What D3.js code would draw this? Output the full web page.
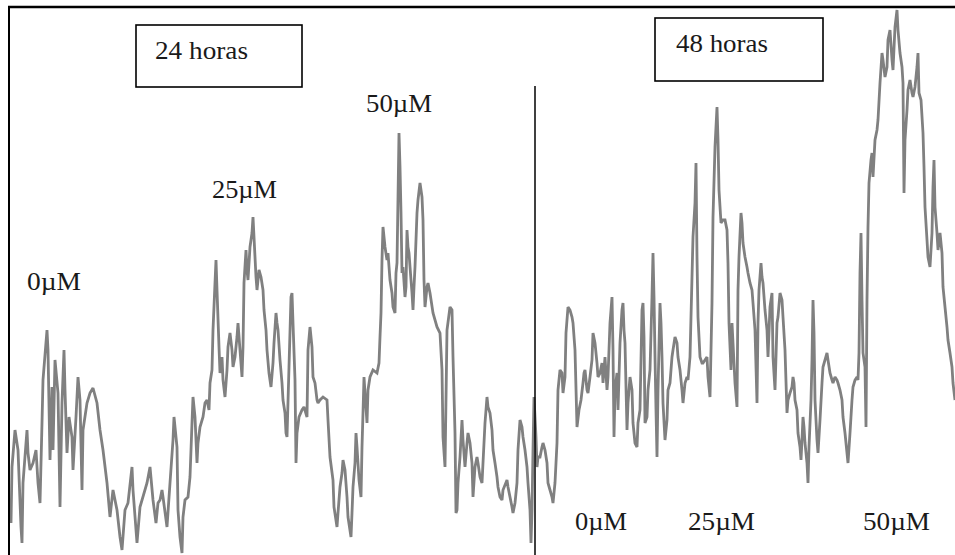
<!DOCTYPE html>
<html>
<head>
<meta charset="utf-8">
<script src="https://cdn.jsdelivr.net/npm/d3@7"></script>
<style>
  html, body { margin: 0; padding: 0; background: #fff; }
  svg { display: block; }
  text { font-family: "Liberation Serif", "Times New Roman", serif; fill: #1a1a1a; }
</style>
</head>
<body>
<svg id="chart" width="955" height="555"></svg>
<script>
// ---- Data: densitometry scan [position, intensity] ----
const scan24h = [
[1,32],[2,88],[5,125],[8,105],[11,28],[12,12],[13,72],[17,125],[18,102],[20,85],
[23,92],[26,105],[28,72],[30,52],[32,132],[33,175],[37,225],[38,205],[40,95],[42,168],
[43,105],[45,195],[48,162],[50,48],[52,152],[54,205],[55,165],[57,102],[59,138],[62,118],
[63,85],[66,138],[68,178],[70,155],[72,65],[73,125],[77,152],[80,162],[83,167],[87,152],
[90,125],[93,105],[97,72],[100,38],[103,65],[107,45],[110,18],[112,5],[115,45],[118,52],
[122,88],[123,65],[127,12],[130,48],[137,72],[140,88],[143,55],[146,32],[148,52],
[150,55],[152,65],[153,58],[157,28],[160,72],[163,115],[164,138],[167,108],[168,45],[170,18],
[172,2],[173,38],[175,55],[178,58],[180,78],[182,132],[183,158],[185,138],[187,92],[188,112],
[190,128],[193,138],[195,152],[197,155],[199,145],[200,172],[202,185],[203,225],[205,272],[206,295],
[207,265],[209,208],[210,182],[212,198],[213,175],[215,158],[217,185],[218,208],[220,222],[222,205],
[223,188],[225,198],[227,218],[228,232],[230,205],[232,178],[233,208],[234,272],[236,305],[237,285],
[238,275],[240,308],[242,322],[243,338],[244,318],[246,278],[247,265],[249,285],[251,278],[253,265],
[254,245],[256,225],[257,205],[259,182],[261,168],[263,192],[264,212],[266,242],[267,232],[268,225],
[270,195],[272,172],[273,155],[275,142],[276,122],[277,118],[279,188],[281,258],[282,262],[283,232],
[285,175],[286,92],[287,122],[289,138],[292,145],[294,148],[297,138],[298,205],[300,228],[302,208],
[303,178],[305,172],[307,155],[308,152],
[310,155],[313,158],[317,155],[318,135],[320,98],[323,75],[324,48],[327,28],[328,42],[330,68],
[332,82],[333,95],[335,85],[337,58],[338,38],[341,18],[342,42],[343,68],[345,92],[346,122],
[347,108],[349,75],[351,58],[352,108],[353,142],[354,178],[355,162],[357,132],[358,165],[360,178],
[363,185],[367,182],[369,192],[370,218],[371,242],[372,295],[373,328],[375,308],[377,295],[378,302],
[380,275],[382,262],[383,248],[385,242],[386,282],[387,292],[389,422],[390,388],[391,342],[392,282],
[393,288],[395,258],[396,268],[397,325],[398,308],[399,302],[401,275],[402,262],[403,245],[404,268],
[405,288],[407,342],[408,355],[410,372],[412,358],[413,335],[414,275],[415,248],[417,268],[418,272],
[420,262],[423,242],[427,228],[430,222],[432,185],[433,118],[435,88],[437,225],[440,248],[442,245],
[443,198],[445,122],[446,42],[447,45],[448,72],[450,98],[452,135],[453,115],[455,88],[457,112],
[458,122],[460,112],[462,92],[463,58],[465,88],[467,98],[468,92],[470,78],[472,72],[473,92],
[475,132],[477,158],[478,148],[480,142],[482,125],[483,105],[485,92],[487,78],[488,68],[490,58],
[492,55],[493,65],[497,75],[498,68],[500,58],[502,48],[503,42],[505,52],[507,72],[508,105],
[510,135],[512,128],[513,118],[515,105],[517,88],[518,72],[520,45],[521,12],[522,45],[523,105],[524,158]
];
const scan48h = [
[526,118],[527,88],[528,98],[530,98],[532,108],[533,112],[535,105],[537,92],[538,72],[540,65],
[542,58],[543,52],[545,72],[547,112],[548,165],[550,185],[552,182],[553,162],[555,178],[556,222],
[558,248],[560,245],[562,238],[563,232],[565,205],[567,128],[569,145],[571,155],[573,172],[574,182],
[575,185],[577,165],[578,162],[580,178],[582,195],[583,222],[585,212],[587,192],[588,178],
[590,182],[592,192],[593,172],[595,198],[597,165],[598,178],[600,232],[602,258],[603,205],[604,118],
[605,165],[607,182],[608,145],[610,212],[612,245],[613,252],[614,225],[615,212],[617,125],[618,152],
[620,178],[622,165],[623,132],[625,112],[627,108],[628,132],[630,145],[632,245],[633,252],[634,218],
[635,132],[637,138],[638,165],[640,185],[642,258],[643,302],[644,258],[645,198],[646,145],[647,98],
[648,165],[650,252],[651,232],[652,198],[653,152],[655,115],[657,135],[658,165],[660,172],[662,198],
[663,205],[665,218],[667,212],[668,198],[670,185],[672,165],[673,152],[675,172],[677,178],[678,175],
[680,198],[682,278],[683,318],[685,352],[686,392],[687,298],[688,238],[690,198],[692,192],[693,192],
[695,195],[697,198],[698,178],[700,158],[702,252],[703,338],[705,408],[707,448],[708,415],[709,365],
[711,332],[713,335],[715,335],[717,325],[718,292],[719,232],[721,185],[722,232],[723,212],[725,172],
[727,148],[728,265],[729,298],[731,342],[732,332],[733,312],[735,298],[737,288],[738,282],[740,272],
[742,265],[743,252],[745,225],[747,152],[748,232],[749,265],[751,292],[752,278],[753,272],[755,245],
[757,225],[758,198],[760,248],[762,262],[763,198],[765,165],[767,232],[768,238],
[770,262],[772,255],[773,238],[775,205],[777,142],[778,155],[780,162],[782,168],[783,178],[784,172],
[785,155],[787,145],[788,122],[790,108],[791,95],[792,115],[793,138],[794,128],[795,112],[797,92],
[798,72],[799,108],[801,155],[802,195],[803,255],[804,222],[805,155],[807,115],[808,102],[810,135],
[812,172],[813,188],[815,195],[817,202],[818,195],[820,182],[822,175],[823,172],[825,178],[827,175],
[828,172],[830,165],[832,155],[833,138],[835,122],[837,102],[838,92],[840,122],[842,155],[843,168],
[845,175],[847,178],[848,175],[849,202],[850,282],[851,322],[852,255],[853,202],[855,188],[856,128],
[857,255],[858,328],[859,372],[861,395],[862,402],[863,378],[865,415],[867,425],[868,435],[870,472],
[872,502],[873,495],[875,478],[877,488],[878,515],[880,525],[882,495],[883,485],[885,528],[887,545],
[888,525],[890,502],[892,488],[893,472],[894,362],[895,415],[897,445],[898,465],[900,475],[902,462],
[903,458],[905,468],[907,488],[908,502],[909,462],[911,455],[913,422],[914,388],[915,348],[917,315],
[918,298],[920,288],[922,322],[923,368],[924,395],[925,348],[927,322],[928,305],[930,322],[932,302],
[933,268],[935,248],[937,228],[938,215],[940,202],[942,188],[943,172],[945,155]
];
const panelTitles = ["24 horas", "48 horas"];
const doseLabels = ["0\u00B5M", "25\u00B5M", "50\u00B5M"];
const panelBoundary = 525; // scan position separating the two panels

// ---- Layout ----
const W = 955, H = 555;
const svg = d3.select("#chart");

const x = d3.scaleLinear().domain([0, 945]).range([10, 955]);
const y = d3.scaleLinear().domain([0, 550]).range([555, 5]);

// trace
const line = d3.line().x(d => x(d[0])).y(d => y(d[1])).curve(d3.curveLinear);
svg.append("path")
  .datum(scan24h.concat(scan48h))
  .attr("d", line)
  .attr("fill", "none")
  .attr("stroke", "#808080")
  .attr("stroke-width", 2.8)
  .attr("stroke-linejoin", "miter")
  .attr("stroke-miterlimit", 2);

// frame (left and top edges)
svg.append("line").attr("x1", 9).attr("x2", 9).attr("y1", 6).attr("y2", H)
  .attr("stroke", "#000").attr("stroke-width", 2);
svg.append("line").attr("x1", 8).attr("x2", W).attr("y1", 7).attr("y2", 7)
  .attr("stroke", "#000").attr("stroke-width", 2.5);

// divider between panels
svg.append("line")
  .attr("x1", x(panelBoundary)).attr("x2", x(panelBoundary))
  .attr("y1", 86).attr("y2", H)
  .attr("stroke", "#000").attr("stroke-width", 1.5);

// title boxes
const boxes = [
  {x0: 136, y0: 25, x1: 302, y1: 87, tx: 155, ty: 59, tw: 93},
  {x0: 655, y0: 18, x1: 823, y1: 81, tx: 676, ty: 52, tw: 92}
];
boxes.forEach((b, i) => {
  svg.append("rect")
    .attr("x", b.x0).attr("y", b.y0)
    .attr("width", b.x1 - b.x0).attr("height", b.y1 - b.y0)
    .attr("fill", "none").attr("stroke", "#000").attr("stroke-width", 1.6);
  svg.append("text")
    .attr("x", b.tx).attr("y", b.ty)
    .attr("font-size", 26)
    .attr("textLength", b.tw).attr("lengthAdjust", "spacingAndGlyphs")
    .text(panelTitles[i]);
});

// dose labels
const doseLayout = [
  // 24 h panel (above peaks)
  {i: 0, x: 27, y: 290, w: 54},
  {i: 1, x: 212, y: 198, w: 65},
  {i: 2, x: 366, y: 112, w: 66},
  // 48 h panel (bottom row)
  {i: 0, x: 575, y: 530, w: 52},
  {i: 1, x: 688, y: 530, w: 67},
  {i: 2, x: 863, y: 530, w: 67}
];
doseLayout.forEach(d => {
  svg.append("text")
    .attr("x", d.x).attr("y", d.y)
    .attr("font-size", 25)
    .attr("textLength", d.w).attr("lengthAdjust", "spacingAndGlyphs")
    .text(doseLabels[d.i]);
});
</script>
</body>
</html>
